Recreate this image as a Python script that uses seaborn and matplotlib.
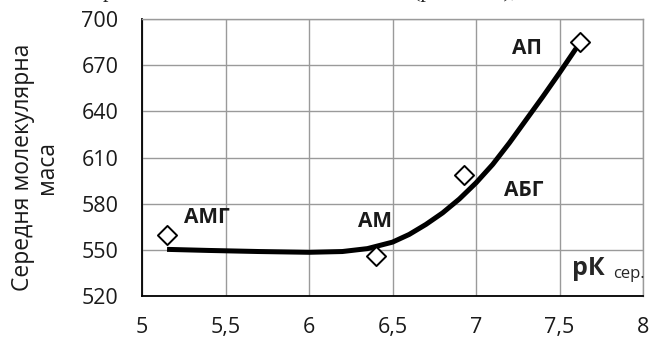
import numpy as np
import matplotlib
matplotlib.use("Agg")
import matplotlib.pyplot as plt
from matplotlib.ticker import FuncFormatter
import seaborn as sns
import pandas as pd

# points (pK сер. vs average molecular mass)
names = ["АМГ", "АМ", "АБГ", "АП"]
pk = [5.15, 6.40, 6.93, 7.62]
mass = [559.5, 546, 598.5, 685]

# smooth trend line
curve_x = [5.15, 5.4, 5.7, 6.0, 6.2, 6.35, 6.5, 6.6, 6.7, 6.8, 6.9, 7.0,
           7.1, 7.2, 7.3, 7.4, 7.5, 7.6]
curve_y = [550.3, 549.6, 548.9, 548.4, 548.9, 550.8, 555, 560, 566.5, 574,
           583, 593.5, 605.5, 619.5, 634.5, 649.5, 665, 681]

# label positions for the names
lab_x = [5.39, 6.395, 7.284, 7.308]
lab_y = [570.7, 568.4, 588.6, 681]

sns.set_style("white")
plt.rcParams['font.family'] = ['Open Sans', 'DejaVu Sans']

pts = pd.DataFrame({"pK": pk, "M": mass, "name": names})
trend = pd.DataFrame({"pK": curve_x, "M": curve_y})

fig = plt.figure(figsize=(6.5, 3.42), dpi=100)
ax = fig.add_axes([142/650, 1-296/342, (643-142)/650, (296-19)/342])

sns.lineplot(data=trend, x="pK", y="M", ax=ax, color="black", lw=3.6,
             sort=False, estimator=None, solid_capstyle="butt",
             solid_joinstyle="round", zorder=3)
sns.scatterplot(data=pts, x="pK", y="M", ax=ax, marker="D", s=95,
                facecolor="white", edgecolor="black", linewidth=1.4, zorder=4)

for n, lx, ly in zip(names, lab_x, lab_y):
    ax.text(lx, ly, n, ha="center", va="center", fontsize=15,
            fontweight="bold", color="#1a1a1a")

ax.text(7.575, 533.5, "рК", fontsize=18, fontweight="bold", ha="left",
        va="baseline")
ax.text(7.82, 532, "сер.", fontsize=12, ha="left", va="baseline")

ax.set_xlim(5, 8)
ax.set_ylim(520, 700)
ax.set_xticks(np.arange(5, 8.01, 0.5))
ax.set_yticks(np.arange(520, 701, 30))
ax.xaxis.set_major_formatter(FuncFormatter(
    lambda v, p: ("%g" % v).replace(".", ",")))
ax.grid(True, color="#9a9a9a", lw=1.0)
ax.set_axisbelow(True)
for s in ["top", "right"]:
    ax.spines[s].set_color("#9a9a9a")
    ax.spines[s].set_linewidth(1.0)
for s in ["left", "bottom"]:
    ax.spines[s].set_color("black")
    ax.spines[s].set_linewidth(1.3)
ax.tick_params(axis="both", direction="out", length=6, width=1.3,
               color="black", labelsize=15.5, labelcolor="#1a1a1a")
ax.tick_params(axis="y", pad=11)
ax.tick_params(axis="x", pad=9)
ax.set_xlabel("")
ax.set_ylabel("")

fig.text(35/650, 1-167/342, "Середня молекулярна\nмаса", rotation=90,
         ha="center", va="center", multialignment="center", fontsize=16.5,
         color="#1a1a1a", linespacing=1.05)

# fragments of the text line above the chart (cut off by the image edge)
fig.text(103/650, 1+2.5/342, "р", family="Liberation Serif", fontsize=16,
         va="baseline")
fig.text(413/650, 1+2.5/342, "(рис. 5.12),", family="Liberation Serif",
         fontsize=16, va="baseline")

fig.savefig("out.png", dpi=100)
